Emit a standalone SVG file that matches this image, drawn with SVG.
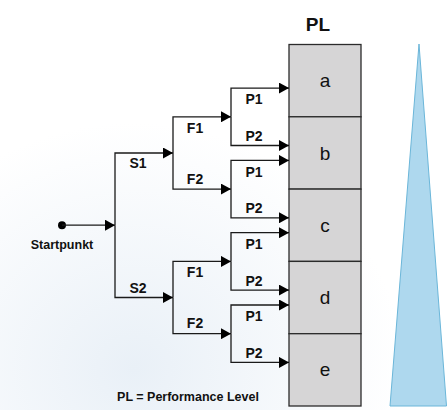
<svg xmlns="http://www.w3.org/2000/svg" width="447" height="410" viewBox="0 0 447 410">
  <defs>
    <radialGradient id="bg" cx="0.3" cy="0.9" r="0.6">
      <stop offset="0" stop-color="#e9f0f7"/>
      <stop offset="1" stop-color="#ffffff"/>
    </radialGradient>
    <marker id="arr" viewBox="0 0 10 10" refX="10" refY="5" markerWidth="10" markerHeight="11" markerUnits="userSpaceOnUse" orient="auto" preserveAspectRatio="none">
      <path d="M0,0 L10,5 L0,10 Z" fill="#000"/>
    </marker>
    <style>
      .ar { fill: none; stroke: #1a1a1a; stroke-width: 1.3; marker-end: url(#arr); }
      .lbl { font-family: "Liberation Sans", Arial, sans-serif; font-size: 14px; font-weight: bold; fill: #111; text-anchor: middle; }
      .note { font-family: "Liberation Sans", Arial, sans-serif; font-size: 12.5px; font-weight: bold; fill: #111; text-anchor: middle; }
      .big { font-family: "Liberation Sans", Arial, sans-serif; font-size: 19px; fill: #111; text-anchor: middle; }
      .cell { fill: #d6d5d6; stroke: #2b2b2b; stroke-width: 1.3; }
    </style>
  </defs>
  <rect width="447" height="410" fill="url(#bg)"/>

  <g id="triangle">
    <polygon points="419,44 446.5,406 390,406" fill="#aed8ee" stroke="#6bb6d9" stroke-width="1"/>
  </g>

  <g id="pl-title">
    <text class="big" x="318" y="31" font-weight="bold" font-size="18">PL</text>
  </g>

  <g id="pl-a"><rect class="cell" x="289" y="44.5" width="72" height="72.3"/><text class="big" x="325" y="87">a</text></g>
  <g id="pl-b"><rect class="cell" x="289" y="116.8" width="72" height="72.3"/><text class="big" x="325" y="159.5">b</text></g>
  <g id="pl-c"><rect class="cell" x="289" y="189.1" width="72" height="72.3"/><text class="big" x="325" y="231.7">c</text></g>
  <g id="pl-d"><rect class="cell" x="289" y="261.4" width="72" height="72.3"/><text class="big" x="325" y="304">d</text></g>
  <g id="pl-e"><rect class="cell" x="289" y="333.7" width="72" height="72.3"/><text class="big" x="325" y="376.3">e</text></g>

  <g id="start">
    <circle cx="62" cy="225.2" r="4" fill="#000"/>
    <text class="note" x="62" y="249">Startpunkt</text>
  </g>

  <g id="connectors">
    <line class="ar" x1="62" y1="225.2" x2="115" y2="225.2"/>
    <polyline class="ar" points="115,225.2 115,153 173,153"/>
    <polyline class="ar" points="115,225.2 115,297.5 173,297.5"/>
    <polyline class="ar" points="173,153 173,116.8 231,116.8"/>
    <polyline class="ar" points="173,153 173,189.1 231,189.1"/>
    <polyline class="ar" points="173,297.5 173,261.4 231,261.4"/>
    <polyline class="ar" points="173,297.5 173,333.7 231,333.7"/>
    <polyline class="ar" points="231,116.8 231,88.1 289,88.1"/>
    <polyline class="ar" points="231,116.8 231,145.5 289,145.5"/>
    <polyline class="ar" points="231,189.1 231,160.4 289,160.4"/>
    <polyline class="ar" points="231,189.1 231,217.8 289,217.8"/>
    <polyline class="ar" points="231,261.4 231,232.7 289,232.7"/>
    <polyline class="ar" points="231,261.4 231,290.1 289,290.1"/>
    <polyline class="ar" points="231,333.7 231,305 289,305"/>
    <polyline class="ar" points="231,333.7 231,362.4 289,362.4"/>
  </g>

  <g id="labels">
    <text class="lbl" x="138" y="168">S1</text>
    <text class="lbl" x="138" y="293">S2</text>
    <text class="lbl" x="195" y="133">F1</text>
    <text class="lbl" x="195" y="183.5">F2</text>
    <text class="lbl" x="195" y="277">F1</text>
    <text class="lbl" x="195" y="328">F2</text>
    <text class="lbl" x="254" y="104">P1</text>
    <text class="lbl" x="254" y="141">P2</text>
    <text class="lbl" x="254" y="176.5">P1</text>
    <text class="lbl" x="254" y="213">P2</text>
    <text class="lbl" x="254" y="248.5">P1</text>
    <text class="lbl" x="254" y="285.5">P2</text>
    <text class="lbl" x="254" y="321">P1</text>
    <text class="lbl" x="254" y="358">P2</text>
    <text class="note" x="188" y="401">PL = Performance Level</text>
  </g>
</svg>
